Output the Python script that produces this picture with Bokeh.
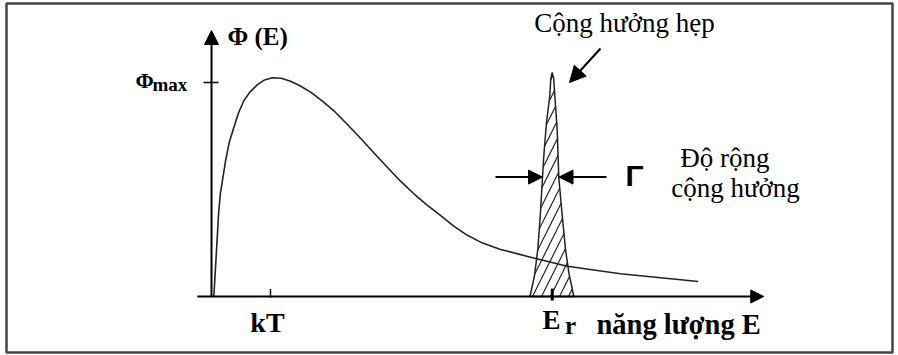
from bokeh.plotting import figure
from bokeh.models import Range1d, Arrow, NormalHead
from bokeh.core.properties import value
from bokeh.embed import file_html
from bokeh.resources import INLINE

# ---- data (E in units of kT, Phi normalised to Phi_max) ----
flux_E = [0.04, 0.12, 0.15, 0.24, 0.30, 0.38, 0.46, 0.55, 0.65, 0.78, 0.90, 1.03, 1.18,
          1.34, 1.50, 1.68, 1.87, 2.07, 2.30, 2.53, 2.75, 2.98, 3.20, 3.43, 3.65,
          3.88, 4.10, 4.33, 4.56, 4.90, 5.02, 5.46, 6.03, 6.93, 8.25]
flux_phi = [0.00, 0.386, 0.481, 0.636, 0.720, 0.791, 0.860, 0.916, 0.955, 0.990, 1.012, 1.022, 1.020,
            1.006, 0.985, 0.955, 0.915, 0.869, 0.805, 0.738, 0.672, 0.604, 0.540, 0.480, 0.428,
            0.379, 0.330, 0.287, 0.254, 0.220, 0.211, 0.180, 0.141, 0.106, 0.070]

res_E = [5.398, 5.475, 5.531, 5.576, 5.610, 5.632, 5.678, 5.734, 5.751, 5.775,
         5.800, 5.819, 5.859, 5.886, 5.944, 6.000, 6.056, 6.141]
res_phi = [0.0, 0.098, 0.221, 0.393, 0.556, 0.657, 0.813, 0.938, 1.019, 1.047,
           1.019, 0.938, 0.782, 0.556, 0.379, 0.221, 0.112, 0.0]

kT = 1.0
E_r = 5.775
phi_max = 1.0
gamma_level = 0.558
gamma_left = 5.610
gamma_right = 5.890

x_axis_start, x_axis_end = -0.24, 9.36
y_axis_end = 1.243

SERIF = value("Liberation Serif")

p = figure(width=898, height=355, output_backend="svg", toolbar_location=None,
           x_range=Range1d(-3.5763, 11.6441), y_range=Range1d(-0.2757, 1.3832),
           x_axis_type=None, y_axis_type=None, min_border=0)
p.outline_line_color = None
p.background_fill_color = "white"

# picture frame
p.quad(left=[-3.4746], right=[11.5424], top=[1.3692], bottom=[-0.2617],
       fill_color=None, line_color="#444444", line_width=2.5)

# resonance peak (hatched)
p.patch(res_E, res_phi, fill_color=None, line_color="#222222", line_width=1.5,
        hatch_pattern="/", hatch_color="#222222", hatch_scale=18, hatch_weight=1.2)

# flux curve
p.line(flux_E, flux_phi, line_color="#222222", line_width=1.6, line_join="round")

# axes with arrowheads
p.add_layout(Arrow(end=NormalHead(size=14, fill_color="black", line_color="black"),
                   x_start=0, y_start=0, x_end=0, y_end=y_axis_end,
                   line_width=2, line_color="black"))
p.add_layout(Arrow(end=NormalHead(size=13, fill_color="black", line_color="black"),
                   x_start=x_axis_start, y_start=0, x_end=x_axis_end, y_end=0,
                   line_width=2, line_color="black"))

# ticks
p.segment(x0=[kT], y0=[-0.005], x1=[kT], y1=[0.035], line_color="black", line_width=1.5)
p.segment(x0=[E_r], y0=[-0.019], x1=[E_r], y1=[0.037], line_color="black", line_width=3)
p.segment(x0=[-0.136], y0=[phi_max], x1=[0.119], y1=[phi_max], line_color="black", line_width=1.5)

# width arrows
p.add_layout(Arrow(end=NormalHead(size=14, fill_color="black", line_color="black"),
                   x_start=4.814, y_start=gamma_level, x_end=gamma_left, y_end=gamma_level,
                   line_width=2, line_color="black"))
p.add_layout(Arrow(end=NormalHead(size=14, fill_color="black", line_color="black"),
                   x_start=6.695, y_start=gamma_level, x_end=gamma_right, y_end=gamma_level,
                   line_width=2, line_color="black"))

# pointer arrow to the narrow resonance
p.add_layout(Arrow(end=NormalHead(size=16, fill_color="black", line_color="black"),
                   x_start=6.593, y_start=1.159, x_end=6.068, y_end=1.0,
                   line_width=2, line_color="black"))

# texts
def txt(x, y, s, size, bold=False, align="left", font=SERIF):
    p.text(x=[x], y=[y], text=[s], text_font=font, text_font_size=size,
           text_font_style="bold" if bold else "normal", text_align=align,
           text_baseline="alphabetic", text_color="black")

txt(0.271, 1.213, "Φ (E)", "25px", bold=True)
txt(-1.288, 1.010, "Φ", "22px", bold=True)
txt(-1.000, 0.990, "max", "19px", bold=True)
txt(0.949, -0.120, "kT", "28px", bold=True, align="center")
txt(5.610, -0.112, "E", "27px", bold=True)
txt(5.990, -0.135, "r", "25px", bold=True)
txt(6.525, -0.131, "năng lượng E", "28.5px", bold=True)
txt(7.0, 1.276, "Cộng hưởng hẹp", "27px", align="center")
txt(8.703, 0.645, "Độ rộng", "27px", align="center")
txt(8.881, 0.505, "cộng hưởng", "27px", align="center")
txt(7.017, 0.566, "Γ", "30px", bold=True, font=value("Liberation Sans"))

open("out.html", "w").write(file_html(p, INLINE))
